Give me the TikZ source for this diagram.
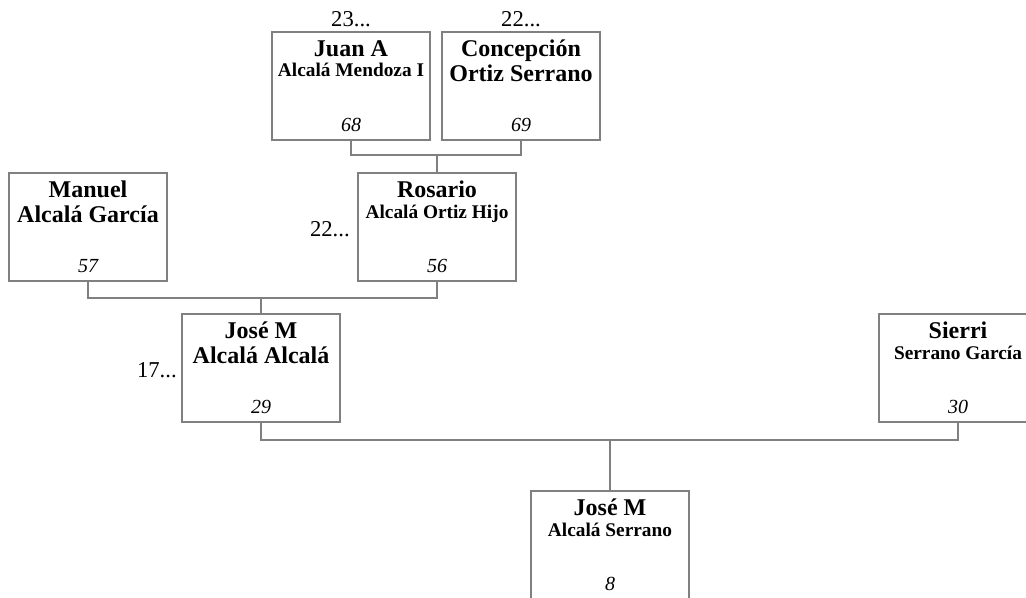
\documentclass[tikz,border=0pt]{standalone}
\usepackage{fontspec}
\setmainfont{Liberation Serif}
\usetikzlibrary{positioning}
\tikzset{
	x=0.75pt, y=-0.75pt, % one unit is one pixel of the picture, y runs downwards
	person/.style={draw=gray, line width=0.9pt, minimum width=118.5pt, minimum height=81pt}, % the box of one person
	link/.style={draw=gray, line width=0.9pt}, % lines between parents and child
	given/.style={anchor=base, inner sep=0pt, font=\bfseries\fontsize{18}{18}\selectfont}, % first line in a box
	family/.style={anchor=base, inner sep=0pt, font=\bfseries\fontsize{18}{18}\selectfont}, % second line, big
	smallfamily/.style={anchor=base, inner sep=0pt, font=\bfseries\fontsize{14.5}{14.5}\selectfont}, % second line, shrunk to fit
	num/.style={anchor=base, inner sep=0pt, font=\itshape\fontsize{15}{15}\selectfont}, % number at the bottom of a box
	more/.style={inner sep=0pt, font=\fontsize{17}{17}\selectfont}, % the "..." counts
}
\begin{document}
\begin{tikzpicture}
	\useasboundingbox (0,0) rectangle (1026,598);
			% boxes
			\node[person] (juan) at (351,86) {};
			\node[person] (conc) at (521,86) {};
			\node[person] (manuel) at (88,227) {};
			\node[person] (rosario) at (437,227) {};
			\node[person] (josea) at (261,368) {};
			\node[person] (sierri) at (958,368) {};
			\node[person] (joseb) at (610,545) {};
			% texts
			\node[given] (juan-n) at (351,57) {Juan A};
			\node[smallfamily] (juan-f) at (351,77) {Alcalá Mendoza I};
			\node[num] (juan-no) at (351,132) {68};
			\node[given] (conc-n) at (521,57) {Concepción};
			\node[family] (conc-f) at (521,82) {Ortiz Serrano};
			\node[num] (conc-no) at (521,132) {69};
			\node[given] (manuel-n) at (88,198) {Manuel};
			\node[family] (manuel-f) at (88,223) {Alcalá García};
			\node[num] (manuel-no) at (88,273) {57};
			\node[given] (rosario-n) at (437,198) {Rosario};
			\node[smallfamily] (rosario-f) at (437,219) {Alcalá Ortiz Hijo};
			\node[num] (rosario-no) at (437,273) {56};
			\node[given] (josea-n) at (261,339) {José M};
			\node[family] (josea-f) at (261,364) {Alcalá Alcalá};
			\node[num] (josea-no) at (261,414) {29};
			\node[given] (sierri-n) at (958,339) {Sierri};
			\node[smallfamily] (sierri-f) at (958,360) {Serrano García};
			\node[num] (sierri-no) at (958,414) {30};
			\node[given] (joseb-n) at (610,516) {José M};
			\node[smallfamily] (joseb-f) at (610,537) {Alcalá Serrano};
			\node[num] (joseb-no) at (610,591) {8};
			% counts
			\node[more, anchor=base] (juan-more) at (351,27) {23...};
			\node[more, anchor=base] (conc-more) at (521,27) {22...};
			\node[more, anchor=base east] (rosario-more) at (350,237) {22...};
			\node[more, anchor=base east] (josea-more) at (177,378) {17...};
			% lines
			\coordinate (m1) at (437,155);
			\coordinate (m2) at (261,298);
			\coordinate (m3) at (610,440);
	\draw[link] (juan.south) |- (m1) -| (conc.south);
	\draw[link] (m1) -- (rosario.north);
	\draw[link] (manuel.south) |- (m2) -| (rosario.south);
	\draw[link] (m2) -- (josea.north);
	\draw[link] (josea.south) |- (m3) -| (sierri.south);
	\draw[link] (m3) -- (joseb.north);
\end{tikzpicture}
\end{document}
